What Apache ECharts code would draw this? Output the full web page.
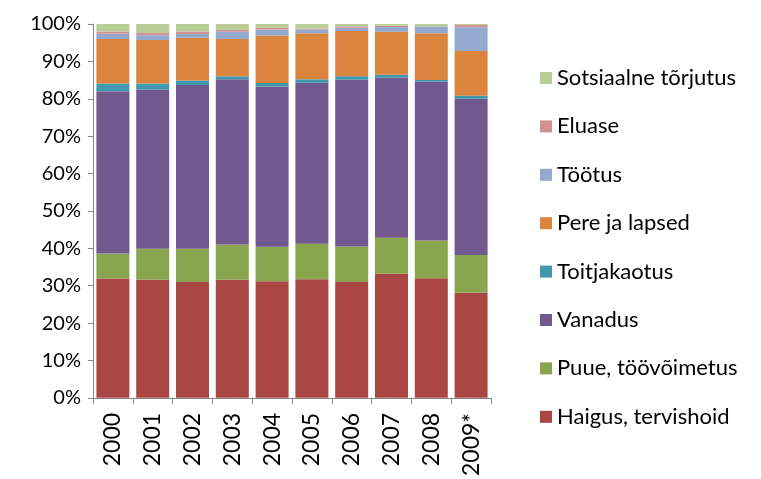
<!DOCTYPE html>
<html>
<head>
<meta charset="utf-8">
<script src="https://cdn.jsdelivr.net/npm/echarts@6/dist/echarts.min.js"></script>
<style>
  html, body { margin: 0; padding: 0; background: #fff; }
  #chart { width: 761px; height: 479px; }
</style>
</head>
<body>
<div id="chart"></div>
<script>
const years = ['2000', '2001', '2002', '2003', '2004', '2005', '2006', '2007', '2008', '2009*']

// shares in %
const haigus = [31.9, 31.6, 31.0, 31.6, 31.2, 31.7, 31.0, 33.2, 32.0, 28.1]
const puue = [6.7, 8.3, 8.9, 9.4, 9.2, 9.5, 9.5, 9.6, 10.1, 10.1]
const vanadus = [43.4, 42.6, 43.8, 44.2, 42.9, 43.1, 44.6, 42.8, 42.5, 41.8]
const toitjakaotus = [2.1, 1.6, 1.2, 0.8, 0.9, 0.9, 0.9, 0.8, 0.4, 0.8]
const pere = [11.9, 11.6, 11.4, 10.0, 12.7, 12.3, 12.1, 11.5, 12.5, 12.0]
const tootus = [1.4, 1.3, 1.0, 1.9, 1.6, 1.0, 0.9, 1.3, 1.8, 6.3]
const eluase = [0.6, 0.6, 0.7, 0.5, 0.5, 0.3, 0.4, 0.3, 0.1, 0.6]
const sotsiaalne = [2.0, 2.4, 2.0, 1.6, 1.0, 1.2, 0.6, 0.5, 0.6, 0.3]

const series = [
  { name: 'Haigus, tervishoid', data: haigus, color: '#AA4643' },
  { name: 'Puue, töövõimetus', data: puue, color: '#89A54E' },
  { name: 'Vanadus', data: vanadus, color: '#71588F' },
  { name: 'Toitjakaotus', data: toitjakaotus, color: '#4198AF' },
  { name: 'Pere ja lapsed', data: pere, color: '#DB843D' },
  { name: 'Töötus', data: tootus, color: '#93A9CF' },
  { name: 'Eluase', data: eluase, color: '#D19392' },
  { name: 'Sotsiaalne tõrjutus', data: sotsiaalne, color: '#B9CD96' }
]

const font = 'Lato, "Open Sans", sans-serif'

const chart = echarts.init(document.getElementById('chart'))
chart.setOption({
  animation: false,
  textStyle: { fontFamily: font },
  grid: { left: 93, right: 270, top: 24, bottom: 80 },
  legend: {
    orient: 'vertical',
    left: 535,
    top: 60,
    icon: 'rect',
    itemWidth: 12,
    itemHeight: 12,
    itemGap: 22.4,
    textStyle: { fontSize: 22, color: '#000', fontFamily: font, lineHeight: 26 },
    data: series.map(s => s.name).reverse()
  },
  xAxis: {
    type: 'category',
    data: years,
    axisLine: { lineStyle: { color: '#868686', width: 1 } },
    axisTick: { show: true, length: 6, lineStyle: { color: '#868686' } },
    axisLabel: { rotate: 90, fontSize: 23, color: '#000', margin: 15 }
  },
  yAxis: {
    type: 'value',
    min: 0,
    max: 100,
    interval: 10,
    axisLine: { show: true, lineStyle: { color: '#868686', width: 1 } },
    axisTick: { show: true, length: 5, lineStyle: { color: '#868686' } },
    splitLine: { show: false },
    axisLabel: { formatter: '{value}%', fontSize: 20, color: '#000', margin: 12 }
  },
  series: series.map(s => ({
    type: 'bar',
    name: s.name,
    stack: 'total',
    data: s.data,
    barWidth: 33,
    itemStyle: { color: s.color }
  }))
})
</script>
</body>
</html>
